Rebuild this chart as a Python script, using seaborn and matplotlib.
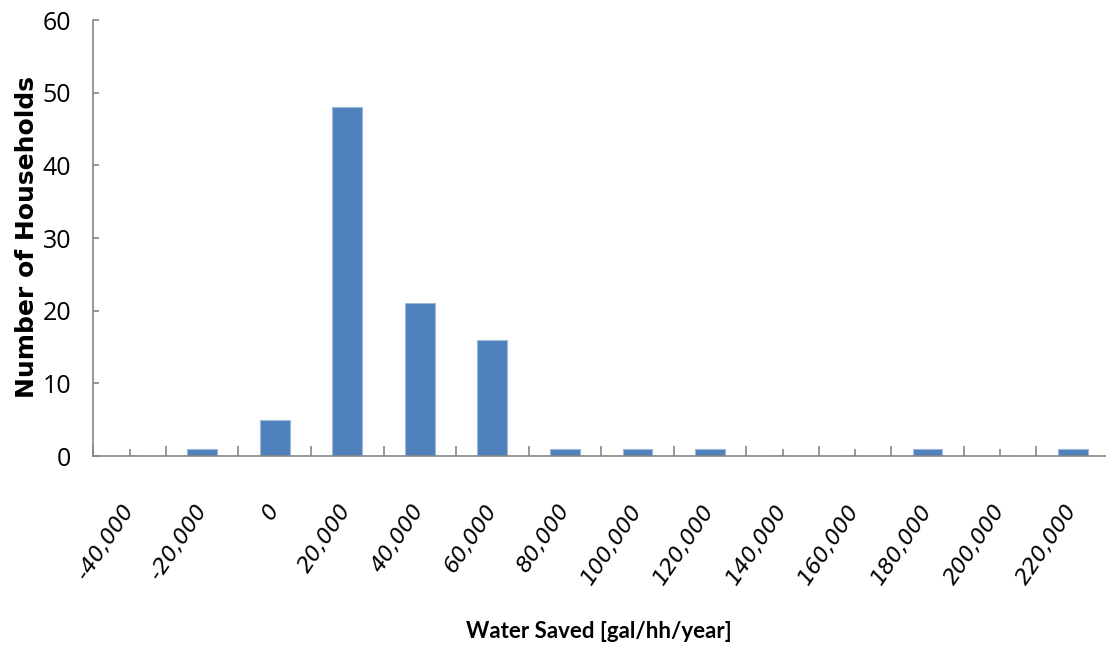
import matplotlib
matplotlib.use("Agg")
import matplotlib.pyplot as plt
import matplotlib.transforms as mtransforms
import seaborn as sns
import pandas as pd
import numpy as np
from matplotlib.ticker import FixedLocator, MultipleLocator

categories = ["-40,000", "-20,000", "0", "20,000", "40,000", "60,000", "80,000",
              "100,000", "120,000", "140,000", "160,000", "180,000", "200,000", "220,000"]
households = [0, 1, 5, 48, 21, 16, 1, 1, 1, 0, 0, 1, 0, 1]

sns.set_theme(style="white")
plt.rcParams["xtick.direction"] = "in"
plt.rcParams["ytick.direction"] = "in"
tickfont = ["Open Sans", "DejaVu Sans"]

df = pd.DataFrame({"bin": categories, "count": households})

fig = plt.figure(figsize=(11.06, 6.5), dpi=100)
ax = fig.add_axes([93.3 / 1106, 1 - 456 / 650, (1109 - 93.3) / 1106, (456 - 20) / 650])

sns.barplot(data=df, x="bin", y="count", order=categories, color="#4F81BD",
            width=0.41, saturation=1, edgecolor="#9DB8DA", linewidth=0.8, ax=ax, zorder=2)

ax.set_xlim(-0.5, 13.5)
ax.set_ylim(0, 60)
ax.yaxis.set_major_locator(MultipleLocator(10))

for side in ["top", "right"]:
    ax.spines[side].set_visible(False)
for side in ["left", "bottom"]:
    ax.spines[side].set_color("#868686")
    ax.spines[side].set_linewidth(1.2)
    ax.spines[side].set_zorder(3)

ax.set_xticks(range(len(categories)))
ax.set_xticklabels(categories, rotation=56, ha="right", va="center",
                   rotation_mode="anchor", fontsize=16, family=["DejaVu Sans"],
                   style="oblique", color="black")
shift = mtransforms.ScaledTranslation(10 / 100, 0, fig.dpi_scale_trans)
for lab in ax.get_xticklabels():
    lab.set_transform(lab.get_transform() + shift)
ax.xaxis.set_minor_locator(FixedLocator(np.arange(-0.5, 14, 1.0)))
ax.tick_params(axis="x", which="major", direction="in", length=5, width=1.2,
               color="#868686", pad=36, bottom=True)
ax.tick_params(axis="x", which="minor", direction="in", length=7.5, width=1.2,
               color="#868686", bottom=True)
ax.tick_params(axis="y", which="major", direction="in", length=4, width=1.2,
               color="#868686", pad=16, left=True)
for t in ax.get_xticklines() + ax.get_yticklines() + ax.xaxis.get_minorticklines():
    t.set_zorder(4)
for lab in ax.get_yticklabels():
    lab.set_family(tickfont)
    lab.set_fontsize(18)
    lab.set_color("black")

ax.set_xlabel("")
ax.set_ylabel("")
fig.text(599 / 1106, 1 - 632 / 650, "Water Saved [gal/hh/year]", ha="center", va="center",
         fontsize=16, fontweight="bold", family=["Lato", "DejaVu Sans"], color="black")
fig.text(27 / 1106, 1 - 237 / 650, "Number of Households", ha="center", va="center",
         rotation=90, fontsize=18, fontweight="bold", family=["DejaVu Sans"], color="black")

fig.savefig("out.png", dpi=100)
